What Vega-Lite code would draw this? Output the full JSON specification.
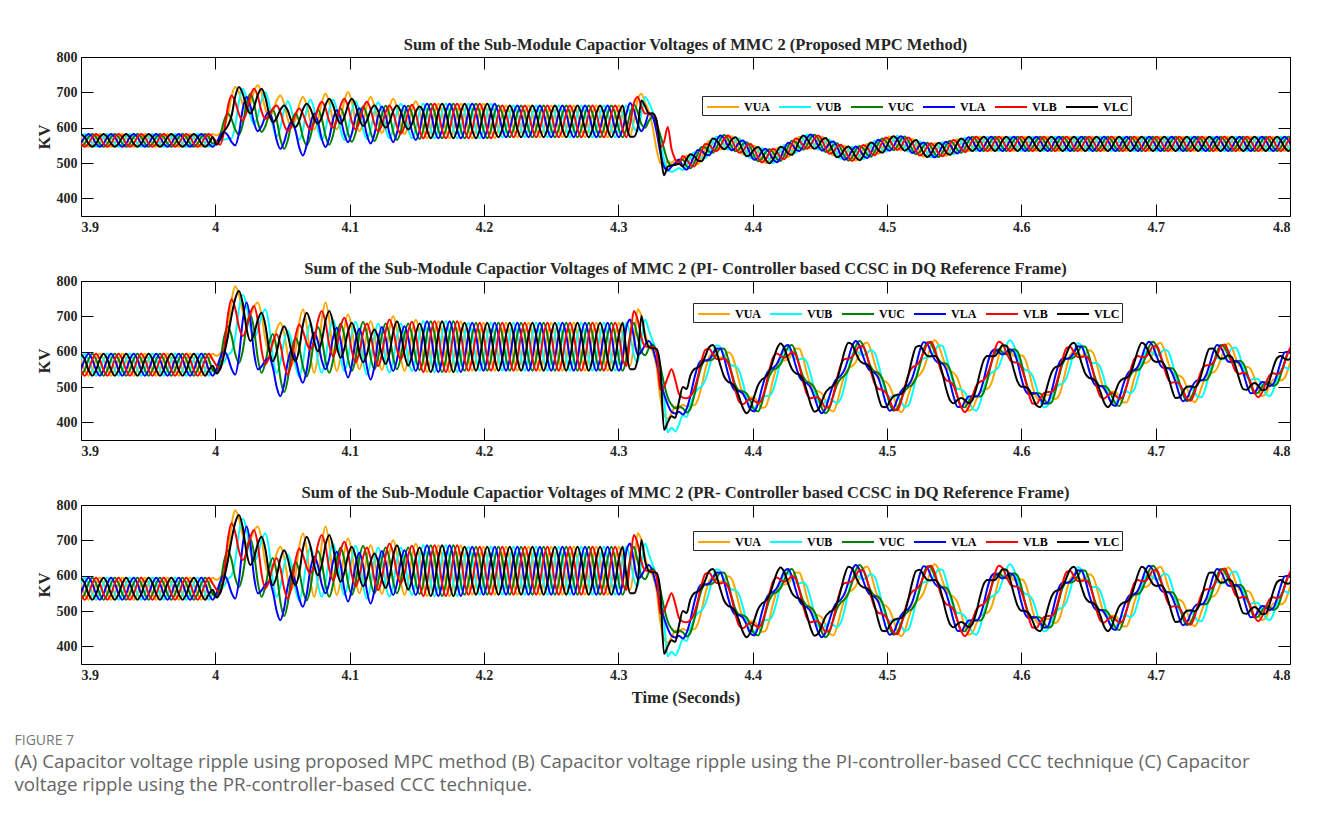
{
"$schema":"https://vega.github.io/schema/vega-lite/v6.json",
"background":"white",
"padding":{"left":14,"top":36,"right":5,"bottom":10},
"spacing":25,
"config":{
"font":"Liberation Serif",
"view":{"stroke":"#000","strokeWidth":1},
"axis":{"grid":false,"domain":false,"labelFont":"Liberation Serif","labelFontWeight":"bold","labelFontSize":14,"labelColor":"#262626","titleFont":"Liberation Serif","titleFontWeight":"bold","titleFontSize":16.5,"titleColor":"#262626","tickColor":"#000","tickSize":-12,"tickWidth":1,"labelPadding":16},
"title":{"font":"Liberation Serif","fontWeight":"bold","fontSize":16.5,"color":"#262626","offset":-3,"anchor":"middle"},
"legend":{"direction":"horizontal","title":null,"symbolType":"M-2,0H2","symbolSize":256,"symbolOffset":10,"symbolStrokeWidth":2,"labelFont":"Liberation Serif","labelFontWeight":"bold","labelFontSize":12,"labelColor":"#000","labelOffset":12,"strokeColor":"#262626","fillColor":"#fff","padding":2,"columnPadding":5}
},
"title":{"text":"FIGURE 7","subtitle":["(A) Capacitor voltage ripple using proposed MPC method (B) Capacitor voltage ripple using the PI-controller-based CCC technique (C) Capacitor","voltage ripple using the PR-controller-based CCC technique."],"orient":"bottom","anchor":"start","font":"Open Sans","fontSize":14,"fontWeight":"normal","color":"#777","subtitleFont":"Open Sans","subtitleFontSize":18.7,"subtitleColor":"#666","subtitleLineHeight":23,"subtitlePadding":5,"offset":27,"dx":-21},
"resolve":{"scale":{"color":"independent"},"legend":{"color":"independent"}},
"datasets":{
"mpc":[
{"t":3.9,"a":573,"b":573,"c":546,"d":555,"e":555,"f":582},
{"t":3.9028,"a":555,"b":582,"c":555,"d":573,"e":546,"f":573},
{"t":3.9056,"a":546,"b":573,"c":573,"d":582,"e":555,"f":555},
{"t":3.9084,"a":555,"b":555,"c":582,"d":573,"e":573,"f":546},
{"t":3.9112,"a":573,"b":546,"c":573,"d":555,"e":582,"f":555},
{"t":3.914,"a":582,"b":555,"c":555,"d":546,"e":573,"f":573},
{"t":3.9168,"a":573,"b":573,"c":546,"d":555,"e":555,"f":582},
{"t":3.9196,"a":555,"b":582,"c":555,"d":573,"e":546,"f":573},
{"t":3.9224,"a":546,"b":573,"c":573,"d":582,"e":555,"f":555},
{"t":3.9252,"a":555,"b":555,"c":582,"d":573,"e":573,"f":546},
{"t":3.928,"a":573,"b":546,"c":573,"d":555,"e":582,"f":555},
{"t":3.9308,"a":582,"b":555,"c":555,"d":546,"e":573,"f":573},
{"t":3.9336,"a":573,"b":573,"c":546,"d":555,"e":555,"f":582},
{"t":3.9364,"a":555,"b":582,"c":555,"d":573,"e":546,"f":573},
{"t":3.9392,"a":546,"b":573,"c":573,"d":582,"e":555,"f":555},
{"t":3.942,"a":555,"b":555,"c":582,"d":573,"e":573,"f":546},
{"t":3.9448,"a":573,"b":546,"c":573,"d":555,"e":582,"f":555},
{"t":3.9476,"a":582,"b":555,"c":555,"d":546,"e":573,"f":573},
{"t":3.9504,"a":573,"b":573,"c":546,"d":555,"e":555,"f":582},
{"t":3.9532,"a":555,"b":582,"c":555,"d":573,"e":546,"f":573},
{"t":3.956,"a":546,"b":573,"c":573,"d":582,"e":555,"f":555},
{"t":3.9588,"a":555,"b":555,"c":582,"d":573,"e":573,"f":546},
{"t":3.9616,"a":573,"b":546,"c":573,"d":555,"e":582,"f":555},
{"t":3.9644,"a":582,"b":555,"c":555,"d":546,"e":573,"f":573},
{"t":3.9672,"a":573,"b":573,"c":546,"d":555,"e":555,"f":582},
{"t":3.97,"a":555,"b":582,"c":555,"d":573,"e":546,"f":573},
{"t":3.9728,"a":546,"b":573,"c":573,"d":582,"e":555,"f":555},
{"t":3.9756,"a":555,"b":555,"c":582,"d":573,"e":573,"f":546},
{"t":3.9784,"a":573,"b":546,"c":573,"d":555,"e":582,"f":555},
{"t":3.9812,"a":582,"b":555,"c":555,"d":546,"e":573,"f":573},
{"t":3.984,"a":573,"b":573,"c":546,"d":555,"e":555,"f":582},
{"t":3.9868,"a":555,"b":582,"c":555,"d":573,"e":546,"f":573},
{"t":3.9896,"a":546,"b":573,"c":573,"d":582,"e":555,"f":555},
{"t":3.9924,"a":555,"b":555,"c":582,"d":573,"e":573,"f":546},
{"t":3.9952,"a":573,"b":546,"c":573,"d":555,"e":582,"f":555},
{"t":3.998,"a":582,"b":555,"c":555,"d":546,"e":573,"f":573},
{"t":4.0008,"a":578,"b":560,"c":556,"d":557,"e":560,"f":552},
{"t":4.0036,"a":585,"b":565,"c":577,"d":578,"e":552,"f":567},
{"t":4.0064,"a":605,"b":566,"c":619,"d":588,"e":587,"f":589},
{"t":4.0092,"a":632,"b":569,"c":640,"d":579,"e":656,"f":605},
{"t":4.012,"a":688,"b":570,"c":625,"d":560,"e":691,"f":632},
{"t":4.0148,"a":715,"b":605,"c":595,"d":550,"e":673,"f":688},
{"t":4.0176,"a":699,"b":675,"c":580,"d":584,"e":638,"f":715},
{"t":4.0204,"a":666,"b":710,"c":609,"d":653,"e":620,"f":696},
{"t":4.0232,"a":650,"b":685,"c":667,"d":687,"e":643,"f":659},
{"t":4.026,"a":668,"b":635,"c":696,"d":663,"e":688,"f":640},
{"t":4.0288,"a":703,"b":610,"c":669,"d":614,"e":710,"f":658},
{"t":4.0316,"a":720,"b":633,"c":615,"d":590,"e":689,"f":693},
{"t":4.0344,"a":698,"b":678,"c":588,"d":604,"e":646,"f":710},
{"t":4.0372,"a":653,"b":700,"c":604,"d":631,"e":625,"f":686},
{"t":4.04,"a":630,"b":669,"c":635,"d":644,"e":635,"f":639},
{"t":4.0428,"a":645,"b":606,"c":650,"d":618,"e":654,"f":615},
{"t":4.0456,"a":676,"b":575,"c":623,"d":566,"e":663,"f":627},
{"t":4.0484,"a":691,"b":600,"c":568,"d":540,"e":645,"f":651},
{"t":4.0512,"a":668,"b":650,"c":540,"d":559,"e":608,"f":663},
{"t":4.054,"a":623,"b":675,"c":565,"d":597,"e":590,"f":648},
{"t":4.0568,"a":600,"b":648,"c":615,"d":616,"e":606,"f":617},
{"t":4.0596,"a":622,"b":593,"c":640,"d":592,"e":638,"f":602},
{"t":4.0624,"a":665,"b":565,"c":618,"d":545,"e":654,"f":619},
{"t":4.0652,"a":687,"b":594,"c":573,"d":521,"e":639,"f":652},
{"t":4.068,"a":664,"b":651,"c":550,"d":551,"e":610,"f":668},
{"t":4.0708,"a":618,"b":680,"c":575,"d":610,"e":595,"f":654},
{"t":4.0736,"a":595,"b":651,"c":625,"d":640,"e":615,"f":625},
{"t":4.0764,"a":620,"b":594,"c":650,"d":616,"e":654,"f":611},
{"t":4.0792,"a":671,"b":565,"c":626,"d":569,"e":673,"f":629},
{"t":4.082,"a":696,"b":594,"c":577,"d":545,"e":655,"f":664},
{"t":4.0848,"a":671,"b":651,"c":552,"d":571,"e":618,"f":682},
{"t":4.0876,"a":620,"b":680,"c":578,"d":623,"e":600,"f":664},
{"t":4.0904,"a":595,"b":651,"c":629,"d":649,"e":621,"f":629},
{"t":4.0932,"a":622,"b":594,"c":655,"d":627,"e":662,"f":611},
{"t":4.096,"a":675,"b":565,"c":631,"d":582,"e":682,"f":629},
{"t":4.0988,"a":701,"b":593,"c":584,"d":559,"e":660,"f":664},
{"t":4.1016,"a":673,"b":648,"c":560,"d":583,"e":617,"f":682},
{"t":4.1044,"a":618,"b":675,"c":585,"d":631,"e":595,"f":663},
{"t":4.1072,"a":590,"b":648,"c":635,"d":655,"e":615,"f":624},
{"t":4.11,"a":614,"b":595,"c":660,"d":630,"e":654,"f":605},
{"t":4.1128,"a":663,"b":568,"c":636,"d":580,"e":673,"f":620},
{"t":4.1156,"a":687,"b":594,"c":587,"d":555,"e":652,"f":649},
{"t":4.1184,"a":662,"b":646,"c":562,"d":581,"e":611,"f":663},
{"t":4.1212,"a":611,"b":672,"c":587,"d":634,"e":590,"f":647},
{"t":4.124,"a":585,"b":647,"c":637,"d":660,"e":608,"f":616},
{"t":4.1268,"a":609,"b":596,"c":662,"d":635,"e":645,"f":600},
{"t":4.1296,"a":658,"b":570,"c":638,"d":584,"e":663,"f":616},
{"t":4.1324,"a":682,"b":595,"c":589,"d":559,"e":643,"f":647},
{"t":4.1352,"a":657,"b":644,"c":565,"d":585,"e":603,"f":663},
{"t":4.138,"a":607,"b":668,"c":589,"d":636,"e":583,"f":646},
{"t":4.1408,"a":582,"b":644,"c":638,"d":662,"e":604,"f":612},
{"t":4.1436,"a":605,"b":595,"c":662,"d":638,"e":645,"f":595},
{"t":4.1464,"a":652,"b":570,"c":639,"d":589,"e":665,"f":611},
{"t":4.1492,"a":675,"b":595,"c":592,"d":565,"e":641,"f":644},
{"t":4.152,"a":649,"b":644,"c":568,"d":591,"e":594,"f":660},
{"t":4.1548,"a":594,"b":668,"c":594,"d":644,"e":570,"f":644},
{"t":4.1576,"a":570,"b":644,"c":644,"d":668,"e":594,"f":594},
{"t":4.1604,"a":594,"b":594,"c":668,"d":644,"e":644,"f":570},
{"t":4.1632,"a":644,"b":570,"c":644,"d":594,"e":668,"f":594},
{"t":4.166,"a":668,"b":594,"c":594,"d":570,"e":644,"f":644},
{"t":4.1688,"a":644,"b":644,"c":570,"d":594,"e":594,"f":668},
{"t":4.1716,"a":594,"b":668,"c":594,"d":644,"e":570,"f":644},
{"t":4.1744,"a":570,"b":644,"c":644,"d":668,"e":594,"f":594},
{"t":4.1772,"a":594,"b":594,"c":668,"d":644,"e":644,"f":570},
{"t":4.18,"a":644,"b":570,"c":644,"d":594,"e":668,"f":594},
{"t":4.1828,"a":668,"b":594,"c":594,"d":570,"e":644,"f":644},
{"t":4.1856,"a":644,"b":644,"c":570,"d":594,"e":594,"f":668},
{"t":4.1884,"a":594,"b":668,"c":594,"d":644,"e":570,"f":644},
{"t":4.1912,"a":570,"b":644,"c":644,"d":668,"e":594,"f":594},
{"t":4.194,"a":594,"b":594,"c":668,"d":644,"e":644,"f":570},
{"t":4.1968,"a":644,"b":570,"c":644,"d":594,"e":668,"f":594},
{"t":4.1996,"a":668,"b":594,"c":594,"d":570,"e":644,"f":644},
{"t":4.2024,"a":644,"b":644,"c":570,"d":594,"e":594,"f":668},
{"t":4.2052,"a":594,"b":668,"c":594,"d":644,"e":570,"f":644},
{"t":4.208,"a":570,"b":644,"c":644,"d":668,"e":594,"f":594},
{"t":4.2108,"a":596,"b":596,"c":663,"d":640,"e":640,"f":573},
{"t":4.2136,"a":640,"b":573,"c":640,"d":596,"e":663,"f":596},
{"t":4.2164,"a":663,"b":596,"c":596,"d":573,"e":640,"f":640},
{"t":4.2192,"a":640,"b":640,"c":573,"d":596,"e":596,"f":663},
{"t":4.222,"a":596,"b":663,"c":596,"d":640,"e":573,"f":640},
{"t":4.2248,"a":573,"b":640,"c":640,"d":663,"e":596,"f":596},
{"t":4.2276,"a":596,"b":596,"c":663,"d":640,"e":640,"f":573},
{"t":4.2304,"a":640,"b":573,"c":640,"d":596,"e":663,"f":596},
{"t":4.2332,"a":663,"b":596,"c":596,"d":573,"e":640,"f":640},
{"t":4.236,"a":640,"b":640,"c":573,"d":596,"e":596,"f":663},
{"t":4.2388,"a":596,"b":663,"c":596,"d":640,"e":573,"f":640},
{"t":4.2416,"a":573,"b":640,"c":640,"d":663,"e":596,"f":596},
{"t":4.2444,"a":596,"b":596,"c":663,"d":640,"e":640,"f":573},
{"t":4.2472,"a":640,"b":573,"c":640,"d":596,"e":663,"f":596},
{"t":4.25,"a":663,"b":596,"c":596,"d":573,"e":640,"f":640},
{"t":4.2528,"a":640,"b":640,"c":573,"d":596,"e":596,"f":663},
{"t":4.2556,"a":596,"b":663,"c":596,"d":640,"e":573,"f":640},
{"t":4.2584,"a":573,"b":640,"c":640,"d":663,"e":596,"f":596},
{"t":4.2612,"a":596,"b":596,"c":663,"d":640,"e":640,"f":573},
{"t":4.264,"a":640,"b":573,"c":640,"d":596,"e":663,"f":596},
{"t":4.2668,"a":663,"b":596,"c":596,"d":573,"e":640,"f":640},
{"t":4.2696,"a":640,"b":640,"c":573,"d":596,"e":596,"f":663},
{"t":4.2724,"a":596,"b":663,"c":596,"d":640,"e":573,"f":640},
{"t":4.2752,"a":573,"b":640,"c":640,"d":663,"e":596,"f":596},
{"t":4.278,"a":596,"b":596,"c":663,"d":640,"e":640,"f":573},
{"t":4.2808,"a":640,"b":573,"c":640,"d":596,"e":663,"f":596},
{"t":4.2836,"a":663,"b":596,"c":596,"d":573,"e":640,"f":640},
{"t":4.2864,"a":640,"b":640,"c":573,"d":596,"e":596,"f":663},
{"t":4.2892,"a":596,"b":663,"c":596,"d":640,"e":573,"f":640},
{"t":4.292,"a":573,"b":640,"c":640,"d":663,"e":596,"f":596},
{"t":4.2948,"a":596,"b":596,"c":663,"d":640,"e":640,"f":573},
{"t":4.2976,"a":640,"b":573,"c":640,"d":596,"e":663,"f":596},
{"t":4.3004,"a":663,"b":596,"c":596,"d":573,"e":640,"f":640},
{"t":4.3032,"a":640,"b":640,"c":573,"d":596,"e":596,"f":663},
{"t":4.306,"a":596,"b":663,"c":596,"d":640,"e":573,"f":610},
{"t":4.3088,"a":578,"b":640,"c":640,"d":670,"e":610,"f":574},
{"t":4.3116,"a":620,"b":600,"c":665,"d":650,"e":670,"f":574},
{"t":4.3144,"a":680,"b":590,"c":645,"d":610,"e":687,"f":600},
{"t":4.3172,"a":696,"b":640,"c":610,"d":590,"e":660,"f":677},
{"t":4.32,"a":670,"b":687,"c":600,"d":610,"e":640,"f":660},
{"t":4.3228,"a":645,"b":670,"c":620,"d":640,"e":640,"f":640},
{"t":4.3256,"a":600,"b":645,"c":630,"d":630,"e":640,"f":640},
{"t":4.3284,"a":540,"b":620,"c":610,"d":590,"e":620,"f":620},
{"t":4.3312,"a":500,"b":560,"c":580,"d":530,"e":545,"f":540},
{"t":4.334,"a":495,"b":510,"c":540,"d":490,"e":560,"f":465},
{"t":4.3368,"a":505,"b":482,"c":505,"d":479,"e":602,"f":490},
{"t":4.3396,"a":500,"b":475,"c":493,"d":490,"e":540,"f":493},
{"t":4.3424,"a":510,"b":480,"c":495,"d":500,"e":510,"f":495},
{"t":4.3452,"a":505,"b":485,"c":505,"d":510,"e":500,"f":498},
{"t":4.348,"a":510,"b":480,"c":510,"d":490,"e":520,"f":490},
{"t":4.3508,"a":521,"b":491,"c":491,"d":481,"e":511,"f":511},
{"t":4.3536,"a":515,"b":515,"c":485,"d":495,"e":495,"f":525},
{"t":4.3564,"a":500,"b":530,"c":500,"d":520,"e":490,"f":520},
{"t":4.3592,"a":497,"b":527,"c":527,"d":537,"e":507,"f":507},
{"t":4.362,"a":515,"b":515,"c":545,"d":535,"e":535,"f":505},
{"t":4.3648,"a":544,"b":514,"c":544,"d":524,"e":554,"f":524},
{"t":4.3676,"a":562,"b":532,"c":532,"d":522,"e":552,"f":552},
{"t":4.3704,"a":559,"b":559,"c":529,"d":539,"e":539,"f":569},
{"t":4.3732,"a":544,"b":574,"c":544,"d":564,"e":534,"f":564},
{"t":4.376,"a":538,"b":568,"c":568,"d":578,"e":548,"f":548},
{"t":4.3788,"a":549,"b":549,"c":579,"d":569,"e":569,"f":539},
{"t":4.3816,"a":568,"b":538,"c":568,"d":548,"e":578,"f":548},
{"t":4.3844,"a":576,"b":546,"c":546,"d":536,"e":566,"f":566},
{"t":4.3872,"a":563,"b":563,"c":533,"d":543,"e":543,"f":573},
{"t":4.39,"a":539,"b":569,"c":539,"d":559,"e":529,"f":559},
{"t":4.3928,"a":524,"b":554,"c":554,"d":564,"e":534,"f":534},
{"t":4.3956,"a":529,"b":529,"c":559,"d":549,"e":549,"f":519},
{"t":4.3984,"a":544,"b":514,"c":544,"d":524,"e":554,"f":524},
{"t":4.4012,"a":549,"b":519,"c":519,"d":509,"e":539,"f":539},
{"t":4.404,"a":535,"b":535,"c":505,"d":515,"e":515,"f":545},
{"t":4.4068,"a":512,"b":542,"c":512,"d":532,"e":502,"f":532},
{"t":4.4096,"a":500,"b":530,"c":530,"d":540,"e":510,"f":510},
{"t":4.4124,"a":509,"b":509,"c":539,"d":529,"e":529,"f":499},
{"t":4.4152,"a":530,"b":500,"c":530,"d":510,"e":540,"f":510},
{"t":4.418,"a":542,"b":512,"c":512,"d":502,"e":532,"f":532},
{"t":4.4208,"a":536,"b":536,"c":506,"d":516,"e":516,"f":546},
{"t":4.4236,"a":521,"b":551,"c":521,"d":541,"e":511,"f":541},
{"t":4.4264,"a":517,"b":547,"c":547,"d":557,"e":527,"f":527},
{"t":4.4292,"a":533,"b":533,"c":563,"d":553,"e":553,"f":523},
{"t":4.432,"a":559,"b":529,"c":559,"d":539,"e":569,"f":539},
{"t":4.4348,"a":574,"b":544,"c":544,"d":534,"e":564,"f":564},
{"t":4.4376,"a":568,"b":568,"c":538,"d":548,"e":548,"f":578},
{"t":4.4404,"a":550,"b":580,"c":550,"d":570,"e":540,"f":570},
{"t":4.4432,"a":541,"b":571,"c":571,"d":581,"e":551,"f":551},
{"t":4.446,"a":550,"b":550,"c":580,"d":570,"e":570,"f":540},
{"t":4.4488,"a":568,"b":538,"c":568,"d":548,"e":578,"f":548},
{"t":4.4516,"a":575,"b":545,"c":545,"d":535,"e":565,"f":565},
{"t":4.4544,"a":561,"b":561,"c":531,"d":541,"e":541,"f":571},
{"t":4.4572,"a":536,"b":566,"c":536,"d":556,"e":526,"f":556},
{"t":4.46,"a":521,"b":551,"c":551,"d":561,"e":531,"f":531},
{"t":4.4628,"a":526,"b":526,"c":556,"d":546,"e":546,"f":516},
{"t":4.4656,"a":542,"b":512,"c":542,"d":522,"e":552,"f":522},
{"t":4.4684,"a":549,"b":519,"c":519,"d":509,"e":539,"f":539},
{"t":4.4712,"a":537,"b":537,"c":507,"d":517,"e":517,"f":547},
{"t":4.474,"a":516,"b":546,"c":516,"d":536,"e":506,"f":536},
{"t":4.4768,"a":507,"b":537,"c":537,"d":547,"e":517,"f":517},
{"t":4.4796,"a":518,"b":518,"c":548,"d":538,"e":538,"f":508},
{"t":4.4824,"a":541,"b":511,"c":541,"d":521,"e":551,"f":521},
{"t":4.4852,"a":554,"b":524,"c":524,"d":514,"e":544,"f":544},
{"t":4.488,"a":548,"b":548,"c":518,"d":528,"e":528,"f":558},
{"t":4.4908,"a":532,"b":562,"c":532,"d":552,"e":522,"f":552},
{"t":4.4936,"a":526,"b":556,"c":556,"d":566,"e":536,"f":536},
{"t":4.4964,"a":539,"b":539,"c":569,"d":559,"e":559,"f":529},
{"t":4.4992,"a":562,"b":532,"c":562,"d":542,"e":572,"f":542},
{"t":4.502,"a":575,"b":545,"c":545,"d":535,"e":565,"f":565},
{"t":4.5048,"a":566,"b":566,"c":536,"d":546,"e":546,"f":576},
{"t":4.5076,"a":547,"b":577,"c":547,"d":567,"e":537,"f":567},
{"t":4.5104,"a":536,"b":566,"c":566,"d":576,"e":546,"f":546},
{"t":4.5132,"a":545,"b":545,"c":575,"d":565,"e":565,"f":535},
{"t":4.516,"a":562,"b":532,"c":562,"d":542,"e":572,"f":542},
{"t":4.5188,"a":568,"b":538,"c":538,"d":528,"e":558,"f":558},
{"t":4.5216,"a":555,"b":555,"c":525,"d":535,"e":535,"f":565},
{"t":4.5244,"a":531,"b":561,"c":531,"d":551,"e":521,"f":551},
{"t":4.5272,"a":518,"b":548,"c":548,"d":558,"e":528,"f":528},
{"t":4.53,"a":527,"b":527,"c":557,"d":547,"e":547,"f":517},
{"t":4.5328,"a":546,"b":516,"c":546,"d":526,"e":556,"f":526},
{"t":4.5356,"a":556,"b":526,"c":526,"d":516,"e":546,"f":546},
{"t":4.5384,"a":547,"b":547,"c":517,"d":527,"e":527,"f":557},
{"t":4.5412,"a":529,"b":559,"c":529,"d":549,"e":519,"f":549},
{"t":4.544,"a":520,"b":550,"c":550,"d":560,"e":530,"f":530},
{"t":4.5468,"a":533,"b":533,"c":563,"d":553,"e":553,"f":523},
{"t":4.5496,"a":555,"b":525,"c":555,"d":535,"e":565,"f":535},
{"t":4.5524,"a":567,"b":537,"c":537,"d":527,"e":557,"f":557},
{"t":4.5552,"a":559,"b":559,"c":529,"d":539,"e":539,"f":569},
{"t":4.558,"a":541,"b":571,"c":541,"d":561,"e":531,"f":561},
{"t":4.5608,"a":533,"b":563,"c":563,"d":573,"e":543,"f":543},
{"t":4.5636,"a":544,"b":544,"c":574,"d":564,"e":564,"f":534},
{"t":4.5664,"a":564,"b":534,"c":564,"d":544,"e":574,"f":544},
{"t":4.5692,"a":574,"b":544,"c":544,"d":534,"e":564,"f":564},
{"t":4.572,"a":564,"b":564,"c":534,"d":544,"e":544,"f":574},
{"t":4.5748,"a":544,"b":574,"c":544,"d":564,"e":534,"f":564},
{"t":4.5776,"a":534,"b":564,"c":564,"d":574,"e":544,"f":544},
{"t":4.5804,"a":544,"b":544,"c":574,"d":564,"e":564,"f":534},
{"t":4.5832,"a":564,"b":534,"c":564,"d":544,"e":574,"f":544},
{"t":4.586,"a":574,"b":544,"c":544,"d":534,"e":564,"f":564},
{"t":4.5888,"a":564,"b":564,"c":534,"d":544,"e":544,"f":574},
{"t":4.5916,"a":544,"b":574,"c":544,"d":564,"e":534,"f":564},
{"t":4.5944,"a":534,"b":564,"c":564,"d":574,"e":544,"f":544},
{"t":4.5972,"a":544,"b":544,"c":574,"d":564,"e":564,"f":534},
{"t":4.6,"a":564,"b":534,"c":564,"d":544,"e":574,"f":544},
{"t":4.6028,"a":574,"b":544,"c":544,"d":534,"e":564,"f":564},
{"t":4.6056,"a":564,"b":564,"c":534,"d":544,"e":544,"f":574},
{"t":4.6084,"a":544,"b":574,"c":544,"d":564,"e":534,"f":564},
{"t":4.6112,"a":534,"b":564,"c":564,"d":574,"e":544,"f":544},
{"t":4.614,"a":544,"b":544,"c":574,"d":564,"e":564,"f":534},
{"t":4.6168,"a":564,"b":534,"c":564,"d":544,"e":574,"f":544},
{"t":4.6196,"a":574,"b":544,"c":544,"d":534,"e":564,"f":564},
{"t":4.6224,"a":564,"b":564,"c":534,"d":544,"e":544,"f":574},
{"t":4.6252,"a":544,"b":574,"c":544,"d":564,"e":534,"f":564},
{"t":4.628,"a":534,"b":564,"c":564,"d":574,"e":544,"f":544},
{"t":4.6308,"a":544,"b":544,"c":574,"d":564,"e":564,"f":534},
{"t":4.6336,"a":564,"b":534,"c":564,"d":544,"e":574,"f":544},
{"t":4.6364,"a":574,"b":544,"c":544,"d":534,"e":564,"f":564},
{"t":4.6392,"a":564,"b":564,"c":534,"d":544,"e":544,"f":574},
{"t":4.642,"a":544,"b":574,"c":544,"d":564,"e":534,"f":564},
{"t":4.6448,"a":534,"b":564,"c":564,"d":574,"e":544,"f":544},
{"t":4.6476,"a":544,"b":544,"c":574,"d":564,"e":564,"f":534},
{"t":4.6504,"a":564,"b":534,"c":564,"d":544,"e":574,"f":544},
{"t":4.6532,"a":574,"b":544,"c":544,"d":534,"e":564,"f":564},
{"t":4.656,"a":564,"b":564,"c":534,"d":544,"e":544,"f":574},
{"t":4.6588,"a":544,"b":574,"c":544,"d":564,"e":534,"f":564},
{"t":4.6616,"a":534,"b":564,"c":564,"d":574,"e":544,"f":544},
{"t":4.6644,"a":544,"b":544,"c":574,"d":564,"e":564,"f":534},
{"t":4.6672,"a":564,"b":534,"c":564,"d":544,"e":574,"f":544},
{"t":4.67,"a":574,"b":544,"c":544,"d":534,"e":564,"f":564},
{"t":4.6728,"a":564,"b":564,"c":534,"d":544,"e":544,"f":574},
{"t":4.6756,"a":544,"b":574,"c":544,"d":564,"e":534,"f":564},
{"t":4.6784,"a":534,"b":564,"c":564,"d":574,"e":544,"f":544},
{"t":4.6812,"a":544,"b":544,"c":574,"d":564,"e":564,"f":534},
{"t":4.684,"a":564,"b":534,"c":564,"d":544,"e":574,"f":544},
{"t":4.6868,"a":574,"b":544,"c":544,"d":534,"e":564,"f":564},
{"t":4.6896,"a":564,"b":564,"c":534,"d":544,"e":544,"f":574},
{"t":4.6924,"a":544,"b":574,"c":544,"d":564,"e":534,"f":564},
{"t":4.6952,"a":534,"b":564,"c":564,"d":574,"e":544,"f":544},
{"t":4.698,"a":544,"b":544,"c":574,"d":564,"e":564,"f":534},
{"t":4.7008,"a":564,"b":534,"c":564,"d":544,"e":574,"f":544},
{"t":4.7036,"a":574,"b":544,"c":544,"d":534,"e":564,"f":564},
{"t":4.7064,"a":564,"b":564,"c":534,"d":544,"e":544,"f":574},
{"t":4.7092,"a":544,"b":574,"c":544,"d":564,"e":534,"f":564},
{"t":4.712,"a":534,"b":564,"c":564,"d":574,"e":544,"f":544},
{"t":4.7148,"a":544,"b":544,"c":574,"d":564,"e":564,"f":534},
{"t":4.7176,"a":564,"b":534,"c":564,"d":544,"e":574,"f":544},
{"t":4.7204,"a":574,"b":544,"c":544,"d":534,"e":564,"f":564},
{"t":4.7232,"a":564,"b":564,"c":534,"d":544,"e":544,"f":574},
{"t":4.726,"a":544,"b":574,"c":544,"d":564,"e":534,"f":564},
{"t":4.7288,"a":534,"b":564,"c":564,"d":574,"e":544,"f":544},
{"t":4.7316,"a":544,"b":544,"c":574,"d":564,"e":564,"f":534},
{"t":4.7344,"a":564,"b":534,"c":564,"d":544,"e":574,"f":544},
{"t":4.7372,"a":574,"b":544,"c":544,"d":534,"e":564,"f":564},
{"t":4.74,"a":564,"b":564,"c":534,"d":544,"e":544,"f":574},
{"t":4.7428,"a":544,"b":574,"c":544,"d":564,"e":534,"f":564},
{"t":4.7456,"a":534,"b":564,"c":564,"d":574,"e":544,"f":544},
{"t":4.7484,"a":544,"b":544,"c":574,"d":564,"e":564,"f":534},
{"t":4.7512,"a":564,"b":534,"c":564,"d":544,"e":574,"f":544},
{"t":4.754,"a":574,"b":544,"c":544,"d":534,"e":564,"f":564},
{"t":4.7568,"a":564,"b":564,"c":534,"d":544,"e":544,"f":574},
{"t":4.7596,"a":544,"b":574,"c":544,"d":564,"e":534,"f":564},
{"t":4.7624,"a":534,"b":564,"c":564,"d":574,"e":544,"f":544},
{"t":4.7652,"a":544,"b":544,"c":574,"d":564,"e":564,"f":534},
{"t":4.768,"a":564,"b":534,"c":564,"d":544,"e":574,"f":544},
{"t":4.7708,"a":574,"b":544,"c":544,"d":534,"e":564,"f":564},
{"t":4.7736,"a":564,"b":564,"c":534,"d":544,"e":544,"f":574},
{"t":4.7764,"a":544,"b":574,"c":544,"d":564,"e":534,"f":564},
{"t":4.7792,"a":534,"b":564,"c":564,"d":574,"e":544,"f":544},
{"t":4.782,"a":544,"b":544,"c":574,"d":564,"e":564,"f":534},
{"t":4.7848,"a":564,"b":534,"c":564,"d":544,"e":574,"f":544},
{"t":4.7876,"a":574,"b":544,"c":544,"d":534,"e":564,"f":564},
{"t":4.7904,"a":564,"b":564,"c":534,"d":544,"e":544,"f":574},
{"t":4.7932,"a":544,"b":574,"c":544,"d":564,"e":534,"f":564},
{"t":4.796,"a":534,"b":564,"c":564,"d":574,"e":544,"f":544},
{"t":4.7988,"a":544,"b":544,"c":574,"d":564,"e":564,"f":534},
{"t":4.8016,"a":564,"b":534,"c":564,"d":544,"e":574,"f":544}
],
"pi":[
{"t":3.9,"a":578,"b":578,"c":532,"d":548,"e":548,"f":594},
{"t":3.9028,"a":548,"b":594,"c":548,"d":578,"e":532,"f":578},
{"t":3.9056,"a":532,"b":578,"c":578,"d":594,"e":548,"f":548},
{"t":3.9084,"a":548,"b":548,"c":594,"d":578,"e":578,"f":532},
{"t":3.9112,"a":578,"b":532,"c":578,"d":548,"e":594,"f":548},
{"t":3.914,"a":594,"b":548,"c":548,"d":532,"e":578,"f":578},
{"t":3.9168,"a":578,"b":578,"c":532,"d":548,"e":548,"f":594},
{"t":3.9196,"a":548,"b":594,"c":548,"d":578,"e":532,"f":578},
{"t":3.9224,"a":532,"b":578,"c":578,"d":594,"e":548,"f":548},
{"t":3.9252,"a":548,"b":548,"c":594,"d":578,"e":578,"f":532},
{"t":3.928,"a":578,"b":532,"c":578,"d":548,"e":594,"f":548},
{"t":3.9308,"a":594,"b":548,"c":548,"d":532,"e":578,"f":578},
{"t":3.9336,"a":578,"b":578,"c":532,"d":548,"e":548,"f":594},
{"t":3.9364,"a":548,"b":594,"c":548,"d":578,"e":532,"f":578},
{"t":3.9392,"a":532,"b":578,"c":578,"d":594,"e":548,"f":548},
{"t":3.942,"a":548,"b":548,"c":594,"d":578,"e":578,"f":532},
{"t":3.9448,"a":578,"b":532,"c":578,"d":548,"e":594,"f":548},
{"t":3.9476,"a":594,"b":548,"c":548,"d":532,"e":578,"f":578},
{"t":3.9504,"a":578,"b":578,"c":532,"d":548,"e":548,"f":594},
{"t":3.9532,"a":548,"b":594,"c":548,"d":578,"e":532,"f":578},
{"t":3.956,"a":532,"b":578,"c":578,"d":594,"e":548,"f":548},
{"t":3.9588,"a":548,"b":548,"c":594,"d":578,"e":578,"f":532},
{"t":3.9616,"a":578,"b":532,"c":578,"d":548,"e":594,"f":548},
{"t":3.9644,"a":594,"b":548,"c":548,"d":532,"e":578,"f":578},
{"t":3.9672,"a":578,"b":578,"c":532,"d":548,"e":548,"f":594},
{"t":3.97,"a":548,"b":594,"c":548,"d":578,"e":532,"f":578},
{"t":3.9728,"a":532,"b":578,"c":578,"d":594,"e":548,"f":548},
{"t":3.9756,"a":548,"b":548,"c":594,"d":578,"e":578,"f":532},
{"t":3.9784,"a":578,"b":532,"c":578,"d":548,"e":594,"f":548},
{"t":3.9812,"a":594,"b":548,"c":548,"d":532,"e":578,"f":578},
{"t":3.984,"a":578,"b":578,"c":532,"d":548,"e":548,"f":594},
{"t":3.9868,"a":548,"b":594,"c":548,"d":578,"e":532,"f":578},
{"t":3.9896,"a":532,"b":578,"c":578,"d":594,"e":548,"f":548},
{"t":3.9924,"a":548,"b":548,"c":594,"d":578,"e":578,"f":532},
{"t":3.9952,"a":578,"b":532,"c":578,"d":548,"e":594,"f":548},
{"t":3.998,"a":594,"b":548,"c":548,"d":532,"e":578,"f":560},
{"t":4.0008,"a":588,"b":553,"c":540,"d":549,"e":561,"f":538},
{"t":4.0036,"a":594,"b":560,"c":573,"d":583,"e":550,"f":552},
{"t":4.0064,"a":615,"b":570,"c":639,"d":601,"e":600,"f":590},
{"t":4.0092,"a":658,"b":590,"c":672,"d":585,"e":699,"f":640},
{"t":4.012,"a":743,"b":600,"c":646,"d":552,"e":748,"f":700},
{"t":4.0148,"a":785,"b":641,"c":594,"d":535,"e":722,"f":750},
{"t":4.0176,"a":761,"b":722,"c":568,"d":586,"e":670,"f":772},
{"t":4.0204,"a":714,"b":762,"c":602,"d":688,"e":644,"f":737},
{"t":4.0232,"a":690,"b":732,"c":671,"d":739,"e":665,"f":666},
{"t":4.026,"a":702,"b":671,"c":705,"d":692,"e":708,"f":630},
{"t":4.0288,"a":727,"b":640,"c":664,"d":597,"e":729,"f":650},
{"t":4.0316,"a":739,"b":660,"c":581,"d":550,"e":688,"f":690},
{"t":4.0344,"a":704,"b":700,"c":540,"d":558,"e":605,"f":710},
{"t":4.0372,"a":635,"b":720,"c":568,"d":575,"e":564,"f":676},
{"t":4.04,"a":600,"b":675,"c":623,"d":583,"e":585,"f":607},
{"t":4.0428,"a":621,"b":585,"c":650,"d":556,"e":628,"f":573},
{"t":4.0456,"a":662,"b":540,"c":609,"d":501,"e":649,"f":598},
{"t":4.0484,"a":682,"b":570,"c":526,"d":474,"e":621,"f":647},
{"t":4.0512,"a":652,"b":630,"c":485,"d":507,"e":564,"f":672},
{"t":4.054,"a":591,"b":660,"c":524,"d":573,"e":535,"f":647},
{"t":4.0568,"a":560,"b":628,"c":601,"d":606,"e":571,"f":598},
{"t":4.0596,"a":600,"b":563,"c":640,"d":583,"e":642,"f":573},
{"t":4.0624,"a":680,"b":530,"c":613,"d":536,"e":677,"f":607},
{"t":4.0652,"a":720,"b":568,"c":558,"d":512,"e":659,"f":676},
{"t":4.068,"a":675,"b":643,"c":530,"d":548,"e":624,"f":710},
{"t":4.0708,"a":585,"b":680,"c":565,"d":619,"e":606,"f":683},
{"t":4.0736,"a":540,"b":645,"c":635,"d":654,"e":633,"f":628},
{"t":4.0764,"a":590,"b":575,"c":670,"d":628,"e":688,"f":601},
{"t":4.0792,"a":689,"b":540,"c":638,"d":576,"e":715,"f":630},
{"t":4.082,"a":739,"b":578,"c":573,"d":550,"e":683,"f":687},
{"t":4.0848,"a":691,"b":653,"c":540,"d":580,"e":619,"f":715},
{"t":4.0876,"a":594,"b":690,"c":575,"d":639,"e":587,"f":682},
{"t":4.0904,"a":545,"b":654,"c":645,"d":668,"e":614,"f":616},
{"t":4.0932,"a":585,"b":581,"c":680,"d":633,"e":669,"f":583},
{"t":4.096,"a":666,"b":545,"c":646,"d":562,"e":696,"f":608},
{"t":4.0988,"a":706,"b":580,"c":579,"d":527,"e":665,"f":657},
{"t":4.1016,"a":667,"b":650,"c":545,"d":562,"e":602,"f":682},
{"t":4.1044,"a":589,"b":685,"c":580,"d":631,"e":570,"f":654},
{"t":4.1072,"a":550,"b":648,"c":650,"d":665,"e":598,"f":598},
{"t":4.11,"a":584,"b":573,"c":685,"d":629,"e":653,"f":570},
{"t":4.1128,"a":652,"b":535,"c":651,"d":557,"e":680,"f":593},
{"t":4.1156,"a":686,"b":571,"c":584,"d":521,"e":650,"f":640},
{"t":4.1184,"a":652,"b":644,"c":550,"d":558,"e":589,"f":663},
{"t":4.1212,"a":583,"b":680,"c":583,"d":633,"e":559,"f":639},
{"t":4.124,"a":548,"b":645,"c":648,"d":670,"e":592,"f":590},
{"t":4.1268,"a":586,"b":575,"c":680,"d":639,"e":658,"f":565},
{"t":4.1296,"a":663,"b":540,"c":648,"d":576,"e":691,"f":595},
{"t":4.1324,"a":701,"b":575,"c":583,"d":545,"e":663,"f":656},
{"t":4.1352,"a":662,"b":645,"c":550,"d":577,"e":606,"f":686},
{"t":4.138,"a":584,"b":680,"c":583,"d":640,"e":578,"f":655},
{"t":4.1408,"a":545,"b":646,"c":648,"d":672,"e":605,"f":592},
{"t":4.1436,"a":581,"b":579,"c":680,"d":640,"e":658,"f":560},
{"t":4.1464,"a":654,"b":545,"c":647,"d":577,"e":685,"f":590},
{"t":4.1492,"a":690,"b":580,"c":581,"d":545,"e":649,"f":650},
{"t":4.152,"a":653,"b":651,"c":548,"d":580,"e":578,"f":680},
{"t":4.1548,"a":578,"b":686,"c":578,"d":650,"e":542,"f":650},
{"t":4.1576,"a":542,"b":650,"c":650,"d":686,"e":578,"f":578},
{"t":4.1604,"a":578,"b":578,"c":686,"d":650,"e":650,"f":542},
{"t":4.1632,"a":650,"b":542,"c":650,"d":578,"e":686,"f":578},
{"t":4.166,"a":686,"b":578,"c":578,"d":542,"e":650,"f":650},
{"t":4.1688,"a":650,"b":650,"c":542,"d":578,"e":578,"f":686},
{"t":4.1716,"a":578,"b":686,"c":578,"d":650,"e":542,"f":650},
{"t":4.1744,"a":542,"b":650,"c":650,"d":686,"e":578,"f":578},
{"t":4.1772,"a":578,"b":578,"c":686,"d":650,"e":650,"f":542},
{"t":4.18,"a":650,"b":542,"c":650,"d":578,"e":686,"f":578},
{"t":4.1828,"a":686,"b":578,"c":578,"d":542,"e":650,"f":650},
{"t":4.1856,"a":648,"b":648,"c":546,"d":580,"e":580,"f":682},
{"t":4.1884,"a":580,"b":682,"c":580,"d":648,"e":546,"f":648},
{"t":4.1912,"a":546,"b":648,"c":648,"d":682,"e":580,"f":580},
{"t":4.194,"a":580,"b":580,"c":682,"d":648,"e":648,"f":546},
{"t":4.1968,"a":648,"b":546,"c":648,"d":580,"e":682,"f":580},
{"t":4.1996,"a":682,"b":580,"c":580,"d":546,"e":648,"f":648},
{"t":4.2024,"a":648,"b":648,"c":546,"d":580,"e":580,"f":682},
{"t":4.2052,"a":580,"b":682,"c":580,"d":648,"e":546,"f":648},
{"t":4.208,"a":546,"b":648,"c":648,"d":682,"e":580,"f":580},
{"t":4.2108,"a":580,"b":580,"c":682,"d":648,"e":648,"f":546},
{"t":4.2136,"a":648,"b":546,"c":648,"d":580,"e":682,"f":580},
{"t":4.2164,"a":682,"b":580,"c":580,"d":546,"e":648,"f":648},
{"t":4.2192,"a":648,"b":648,"c":546,"d":580,"e":580,"f":682},
{"t":4.222,"a":580,"b":682,"c":580,"d":648,"e":546,"f":648},
{"t":4.2248,"a":546,"b":648,"c":648,"d":682,"e":580,"f":580},
{"t":4.2276,"a":580,"b":580,"c":682,"d":648,"e":648,"f":546},
{"t":4.2304,"a":648,"b":546,"c":648,"d":580,"e":682,"f":580},
{"t":4.2332,"a":682,"b":580,"c":580,"d":546,"e":648,"f":648},
{"t":4.236,"a":648,"b":648,"c":546,"d":580,"e":580,"f":682},
{"t":4.2388,"a":580,"b":682,"c":580,"d":648,"e":546,"f":648},
{"t":4.2416,"a":546,"b":648,"c":648,"d":682,"e":580,"f":580},
{"t":4.2444,"a":580,"b":580,"c":682,"d":648,"e":648,"f":546},
{"t":4.2472,"a":648,"b":546,"c":648,"d":580,"e":682,"f":580},
{"t":4.25,"a":682,"b":580,"c":580,"d":546,"e":648,"f":648},
{"t":4.2528,"a":648,"b":648,"c":546,"d":580,"e":580,"f":682},
{"t":4.2556,"a":580,"b":682,"c":580,"d":648,"e":546,"f":648},
{"t":4.2584,"a":546,"b":648,"c":648,"d":682,"e":580,"f":580},
{"t":4.2612,"a":580,"b":580,"c":682,"d":648,"e":648,"f":546},
{"t":4.264,"a":648,"b":546,"c":648,"d":580,"e":682,"f":580},
{"t":4.2668,"a":682,"b":580,"c":580,"d":546,"e":648,"f":648},
{"t":4.2696,"a":648,"b":648,"c":546,"d":580,"e":580,"f":682},
{"t":4.2724,"a":580,"b":682,"c":580,"d":648,"e":546,"f":648},
{"t":4.2752,"a":546,"b":648,"c":648,"d":682,"e":580,"f":580},
{"t":4.278,"a":580,"b":580,"c":682,"d":648,"e":648,"f":546},
{"t":4.2808,"a":648,"b":546,"c":648,"d":580,"e":682,"f":580},
{"t":4.2836,"a":682,"b":580,"c":580,"d":546,"e":648,"f":648},
{"t":4.2864,"a":648,"b":648,"c":546,"d":580,"e":580,"f":682},
{"t":4.2892,"a":580,"b":682,"c":580,"d":648,"e":546,"f":648},
{"t":4.292,"a":546,"b":648,"c":648,"d":682,"e":580,"f":580},
{"t":4.2948,"a":580,"b":580,"c":682,"d":648,"e":648,"f":546},
{"t":4.2976,"a":648,"b":546,"c":648,"d":580,"e":682,"f":580},
{"t":4.3004,"a":682,"b":580,"c":580,"d":546,"e":648,"f":648},
{"t":4.3032,"a":648,"b":648,"c":546,"d":580,"e":580,"f":682},
{"t":4.306,"a":580,"b":682,"c":580,"d":670,"e":560,"f":600},
{"t":4.3088,"a":560,"b":648,"c":648,"d":691,"e":640,"f":550},
{"t":4.3116,"a":620,"b":590,"c":682,"d":640,"e":715,"f":550},
{"t":4.3144,"a":720,"b":570,"c":640,"d":590,"e":690,"f":580},
{"t":4.3172,"a":700,"b":640,"c":600,"d":600,"e":640,"f":701},
{"t":4.32,"a":650,"b":691,"c":590,"d":620,"e":615,"f":640},
{"t":4.3228,"a":615,"b":660,"c":610,"d":630,"e":613,"f":613},
{"t":4.3256,"a":600,"b":630,"c":620,"d":610,"e":613,"f":610},
{"t":4.3284,"a":560,"b":600,"c":600,"d":570,"e":600,"f":608},
{"t":4.3312,"a":470,"b":540,"c":560,"d":520,"e":493,"f":560},
{"t":4.334,"a":420,"b":470,"c":510,"d":480,"e":500,"f":379},
{"t":4.3368,"a":410,"b":372,"c":470,"d":450,"e":527,"f":400},
{"t":4.3396,"a":425,"b":385,"c":450,"d":430,"e":550,"f":417},
{"t":4.3424,"a":445,"b":374,"c":440,"d":425,"e":520,"f":413},
{"t":4.3452,"a":440,"b":395,"c":445,"d":430,"e":480,"f":460},
{"t":4.348,"a":450,"b":420,"c":440,"d":422,"e":470,"f":500},
{"t":4.3508,"a":445,"b":415,"c":428,"d":438,"e":468,"f":494},
{"t":4.3536,"a":448,"b":448,"c":438,"d":474,"e":474,"f":532},
{"t":4.3564,"a":448,"b":478,"c":474,"d":522,"e":492,"f":550},
{"t":4.3592,"a":464,"b":494,"c":522,"d":560,"e":530,"f":555},
{"t":4.362,"a":502,"b":502,"c":560,"d":575,"e":575,"f":565},
{"t":4.3648,"a":550,"b":520,"c":575,"d":575,"e":605,"f":588},
{"t":4.3676,"a":585,"b":555,"c":575,"d":578,"e":608,"f":613},
{"t":4.3704,"a":595,"b":595,"c":578,"d":593,"e":593,"f":619},
{"t":4.3732,"a":588,"b":618,"c":593,"d":609,"e":579,"f":598},
{"t":4.376,"a":583,"b":613,"c":609,"d":608,"e":578,"f":561},
{"t":4.3788,"a":589,"b":589,"c":608,"d":581,"e":581,"f":529},
{"t":4.3816,"a":598,"b":568,"c":581,"d":539,"e":569,"f":515},
{"t":4.3844,"a":591,"b":561,"c":539,"d":505,"e":535,"f":510},
{"t":4.3872,"a":559,"b":559,"c":505,"d":490,"e":490,"f":498},
{"t":4.39,"a":515,"b":545,"c":490,"d":488,"e":458,"f":471},
{"t":4.3928,"a":480,"b":510,"c":488,"d":481,"e":451,"f":440},
{"t":4.3956,"a":468,"b":468,"c":481,"d":460,"e":460,"f":426},
{"t":4.3984,"a":471,"b":441,"c":460,"d":436,"e":466,"f":441},
{"t":4.4012,"a":470,"b":440,"c":436,"d":431,"e":461,"f":474},
{"t":4.404,"a":456,"b":456,"c":431,"d":454,"e":454,"f":505},
{"t":4.4068,"a":441,"b":471,"c":454,"d":495,"e":465,"f":521},
{"t":4.4096,"a":444,"b":474,"c":495,"d":531,"e":501,"f":528},
{"t":4.4124,"a":475,"b":475,"c":531,"d":548,"e":548,"f":544},
{"t":4.4152,"a":521,"b":491,"c":548,"d":554,"e":584,"f":575},
{"t":4.418,"a":558,"b":528,"c":554,"d":565,"e":595,"f":608},
{"t":4.4208,"a":574,"b":574,"c":565,"d":588,"e":588,"f":623},
{"t":4.4236,"a":575,"b":605,"c":588,"d":613,"e":583,"f":609},
{"t":4.4264,"a":578,"b":608,"c":613,"d":619,"e":589,"f":578},
{"t":4.4292,"a":593,"b":593,"c":619,"d":598,"e":598,"f":551},
{"t":4.432,"a":609,"b":579,"c":598,"d":561,"e":591,"f":539},
{"t":4.4348,"a":608,"b":578,"c":561,"d":529,"e":559,"f":535},
{"t":4.4376,"a":581,"b":581,"c":529,"d":515,"e":515,"f":520},
{"t":4.4404,"a":539,"b":569,"c":515,"d":510,"e":480,"f":488},
{"t":4.4432,"a":505,"b":535,"c":510,"d":498,"e":468,"f":451},
{"t":4.446,"a":490,"b":490,"c":498,"d":471,"e":471,"f":430},
{"t":4.4488,"a":488,"b":458,"c":471,"d":440,"e":470,"f":436},
{"t":4.4516,"a":481,"b":451,"c":440,"d":426,"e":456,"f":461},
{"t":4.4544,"a":460,"b":460,"c":426,"d":441,"e":441,"f":485},
{"t":4.4572,"a":436,"b":466,"c":441,"d":475,"e":445,"f":497},
{"t":4.46,"a":431,"b":461,"c":475,"d":507,"e":477,"f":504},
{"t":4.4628,"a":455,"b":455,"c":507,"d":524,"e":524,"f":522},
{"t":4.4656,"a":497,"b":467,"c":524,"d":532,"e":562,"f":559},
{"t":4.4684,"a":534,"b":504,"c":532,"d":549,"e":579,"f":601},
{"t":4.4712,"a":552,"b":552,"c":549,"d":581,"e":581,"f":625},
{"t":4.474,"a":559,"b":589,"c":581,"d":615,"e":585,"f":620},
{"t":4.4768,"a":571,"b":601,"c":615,"d":630,"e":600,"f":596},
{"t":4.4796,"a":595,"b":595,"c":630,"d":616,"e":616,"f":575},
{"t":4.4824,"a":620,"b":590,"c":616,"d":585,"e":615,"f":567},
{"t":4.4852,"a":626,"b":596,"c":585,"d":557,"e":587,"f":564},
{"t":4.488,"a":605,"b":605,"c":557,"d":544,"e":544,"f":550},
{"t":4.4908,"a":567,"b":597,"c":544,"d":540,"e":510,"f":515},
{"t":4.4936,"a":534,"b":564,"c":540,"d":525,"e":495,"f":472},
{"t":4.4964,"a":520,"b":520,"c":525,"d":492,"e":492,"f":444},
{"t":4.4992,"a":515,"b":485,"c":492,"d":454,"e":484,"f":443},
{"t":4.502,"a":502,"b":472,"c":454,"d":433,"e":463,"f":459},
{"t":4.5048,"a":474,"b":474,"c":433,"d":439,"e":439,"f":474},
{"t":4.5076,"a":443,"b":473,"c":439,"d":464,"e":434,"f":478},
{"t":4.5104,"a":429,"b":459,"c":464,"d":488,"e":458,"f":480},
{"t":4.5132,"a":444,"b":444,"c":488,"d":500,"e":500,"f":496},
{"t":4.516,"a":478,"b":448,"c":500,"d":506,"e":536,"f":535},
{"t":4.5188,"a":510,"b":480,"c":506,"d":525,"e":555,"f":581},
{"t":4.5216,"a":526,"b":526,"c":525,"d":561,"e":561,"f":613},
{"t":4.5244,"a":535,"b":565,"c":561,"d":603,"e":573,"f":617},
{"t":4.5272,"a":551,"b":581,"c":603,"d":627,"e":597,"f":602},
{"t":4.53,"a":583,"b":583,"c":627,"d":622,"e":622,"f":588},
{"t":4.5328,"a":617,"b":587,"c":622,"d":598,"e":628,"f":587},
{"t":4.5356,"a":632,"b":602,"c":598,"d":577,"e":607,"f":588},
{"t":4.5384,"a":618,"b":618,"c":577,"d":568,"e":568,"f":576},
{"t":4.5412,"a":587,"b":617,"c":568,"d":566,"e":536,"f":540},
{"t":4.544,"a":558,"b":588,"c":566,"d":550,"e":520,"f":495},
{"t":4.5468,"a":546,"b":546,"c":550,"d":515,"e":515,"f":463},
{"t":4.5496,"a":540,"b":510,"c":515,"d":473,"e":503,"f":454},
{"t":4.5524,"a":525,"b":495,"c":473,"d":444,"e":474,"f":463},
{"t":4.5552,"a":493,"b":493,"c":444,"d":443,"e":443,"f":469},
{"t":4.558,"a":454,"b":484,"c":443,"d":459,"e":429,"f":463},
{"t":4.5608,"a":433,"b":463,"c":459,"d":473,"e":443,"f":454},
{"t":4.5636,"a":439,"b":439,"c":473,"d":474,"e":474,"f":463},
{"t":4.5664,"a":463,"b":433,"c":474,"d":473,"e":503,"f":495},
{"t":4.5692,"a":484,"b":454,"c":473,"d":485,"e":515,"f":540},
{"t":4.572,"a":493,"b":493,"c":485,"d":520,"e":520,"f":576},
{"t":4.5748,"a":495,"b":525,"c":520,"d":566,"e":536,"f":588},
{"t":4.5776,"a":510,"b":540,"c":566,"d":598,"e":568,"f":587},
{"t":4.5804,"a":546,"b":546,"c":598,"d":607,"e":607,"f":588},
{"t":4.5832,"a":588,"b":558,"c":607,"d":598,"e":628,"f":602},
{"t":4.586,"a":617,"b":587,"c":598,"d":592,"e":622,"f":618},
{"t":4.5888,"a":618,"b":618,"c":592,"d":598,"e":598,"f":617},
{"t":4.5916,"a":602,"b":632,"c":598,"d":607,"e":577,"f":590},
{"t":4.5944,"a":588,"b":618,"c":607,"d":600,"e":570,"f":549},
{"t":4.5972,"a":587,"b":587,"c":600,"d":569,"e":569,"f":515},
{"t":4.6,"a":590,"b":560,"c":569,"d":525,"e":555,"f":501},
{"t":4.6028,"a":579,"b":549,"c":525,"d":491,"e":521,"f":500},
{"t":4.6056,"a":545,"b":545,"c":491,"d":480,"e":480,"f":493},
{"t":4.6084,"a":501,"b":531,"c":480,"d":483,"e":453,"f":472},
{"t":4.6112,"a":470,"b":500,"c":483,"d":482,"e":452,"f":448},
{"t":4.614,"a":463,"b":463,"c":482,"d":468,"e":468,"f":443},
{"t":4.6168,"a":472,"b":442,"c":468,"d":453,"e":483,"f":466},
{"t":4.6196,"a":478,"b":448,"c":453,"d":456,"e":486,"f":506},
{"t":4.6224,"a":473,"b":473,"c":456,"d":486,"e":486,"f":540},
{"t":4.6252,"a":466,"b":496,"c":486,"d":530,"e":500,"f":556},
{"t":4.628,"a":476,"b":506,"c":530,"d":566,"e":536,"f":560},
{"t":4.6308,"a":510,"b":510,"c":566,"d":580,"e":580,"f":570},
{"t":4.6336,"a":556,"b":526,"c":580,"d":580,"e":610,"f":594},
{"t":4.6364,"a":590,"b":560,"c":580,"d":584,"e":614,"f":618},
{"t":4.6392,"a":600,"b":600,"c":584,"d":598,"e":598,"f":625},
{"t":4.642,"a":594,"b":624,"c":598,"d":615,"e":585,"f":604},
{"t":4.6448,"a":588,"b":618,"c":615,"d":614,"e":584,"f":568},
{"t":4.6476,"a":595,"b":595,"c":614,"d":588,"e":588,"f":538},
{"t":4.6504,"a":604,"b":574,"c":588,"d":548,"e":578,"f":526},
{"t":4.6532,"a":598,"b":568,"c":548,"d":516,"e":546,"f":523},
{"t":4.656,"a":568,"b":568,"c":516,"d":503,"e":503,"f":513},
{"t":4.6588,"a":526,"b":556,"c":503,"d":503,"e":473,"f":487},
{"t":4.6616,"a":493,"b":523,"c":503,"d":497,"e":467,"f":456},
{"t":4.6644,"a":483,"b":483,"c":497,"d":476,"e":476,"f":443},
{"t":4.6672,"a":487,"b":457,"c":476,"d":453,"e":483,"f":456},
{"t":4.67,"a":486,"b":456,"c":453,"d":446,"e":476,"f":487},
{"t":4.6728,"a":473,"b":473,"c":446,"d":467,"e":467,"f":513},
{"t":4.6756,"a":456,"b":486,"c":467,"d":503,"e":473,"f":523},
{"t":4.6784,"a":457,"b":487,"c":503,"d":533,"e":503,"f":526},
{"t":4.6812,"a":483,"b":483,"c":533,"d":546,"e":546,"f":538},
{"t":4.684,"a":523,"b":493,"c":546,"d":548,"e":578,"f":568},
{"t":4.6868,"a":556,"b":526,"c":548,"d":558,"e":588,"f":604},
{"t":4.6896,"a":568,"b":568,"c":558,"d":584,"e":584,"f":625},
{"t":4.6924,"a":568,"b":598,"c":584,"d":615,"e":585,"f":618},
{"t":4.6952,"a":574,"b":604,"c":615,"d":628,"e":598,"f":595},
{"t":4.698,"a":595,"b":595,"c":628,"d":615,"e":615,"f":576},
{"t":4.7008,"a":618,"b":588,"c":615,"d":586,"e":616,"f":571},
{"t":4.7036,"a":625,"b":595,"c":586,"d":561,"e":591,"f":573},
{"t":4.7064,"a":606,"b":606,"c":561,"d":553,"e":553,"f":563},
{"t":4.7092,"a":571,"b":601,"c":553,"d":553,"e":523,"f":532},
{"t":4.712,"a":543,"b":573,"c":553,"d":542,"e":512,"f":494},
{"t":4.7148,"a":533,"b":533,"c":542,"d":514,"e":514,"f":469},
{"t":4.7176,"a":532,"b":502,"c":514,"d":479,"e":509,"f":470},
{"t":4.7204,"a":524,"b":494,"c":479,"d":460,"e":490,"f":487},
{"t":4.7232,"a":499,"b":499,"c":460,"d":467,"e":467,"f":501},
{"t":4.726,"a":470,"b":500,"c":467,"d":491,"e":461,"f":502},
{"t":4.7288,"a":457,"b":487,"c":491,"d":512,"e":482,"f":499},
{"t":4.7316,"a":471,"b":471,"c":512,"d":519,"e":519,"f":509},
{"t":4.7344,"a":502,"b":472,"c":519,"d":519,"e":549,"f":541},
{"t":4.7372,"a":529,"b":499,"c":519,"d":531,"e":561,"f":582},
{"t":4.74,"a":539,"b":539,"c":531,"d":562,"e":562,"f":608},
{"t":4.7428,"a":541,"b":571,"c":562,"d":598,"e":568,"f":609},
{"t":4.7456,"a":552,"b":582,"c":598,"d":619,"e":589,"f":593},
{"t":4.7484,"a":578,"b":578,"c":619,"d":613,"e":613,"f":580},
{"t":4.7512,"a":609,"b":579,"c":613,"d":590,"e":620,"f":582},
{"t":4.754,"a":623,"b":593,"c":590,"d":572,"e":602,"f":590},
{"t":4.7568,"a":610,"b":610,"c":572,"d":570,"e":570,"f":584},
{"t":4.7596,"a":582,"b":612,"c":570,"d":574,"e":544,"f":557},
{"t":4.7624,"a":560,"b":590,"c":574,"d":567,"e":537,"f":520},
{"t":4.7652,"a":554,"b":554,"c":567,"d":540,"e":540,"f":494},
{"t":4.768,"a":557,"b":527,"c":540,"d":504,"e":534,"f":492},
{"t":4.7708,"a":550,"b":520,"c":504,"d":482,"e":512,"f":504},
{"t":4.7736,"a":524,"b":524,"c":482,"d":484,"e":484,"f":511},
{"t":4.7764,"a":492,"b":522,"c":484,"d":501,"e":471,"f":504},
{"t":4.7792,"a":474,"b":504,"c":501,"d":514,"e":484,"f":491},
{"t":4.782,"a":481,"b":481,"c":514,"d":511,"e":511,"f":493},
{"t":4.7848,"a":504,"b":474,"c":511,"d":503,"e":533,"f":519},
{"t":4.7876,"a":521,"b":491,"c":503,"d":509,"e":539,"f":556},
{"t":4.7904,"a":523,"b":523,"c":509,"d":536,"e":536,"f":582},
{"t":4.7932,"a":519,"b":549,"c":536,"d":572,"e":542,"f":588},
{"t":4.796,"a":526,"b":556,"c":572,"d":598,"e":568,"f":580},
{"t":4.7988,"a":552,"b":552,"c":598,"d":600,"e":600,"f":577},
{"t":4.8016,"a":588,"b":558,"c":600,"d":587,"e":617,"f":590}
]
},
"vconcat":[
{"width":1209,"height":159,
"title":{"text":"Sum of the Sub-Module Capactior Voltages of MMC 2 (Proposed MPC Method)"},
"data":{"name":"mpc"},
"transform":[{"fold":["a","b","c","d","e","f"],"as":["s","v"]}],
"resolve":{"axis":{"x":"independent","y":"independent"}},
"layer":[
{"mark":{"type":"line","strokeWidth":2,"interpolate":"monotone","clip":true},
"encoding":{
"x":{"field":"t","type":"quantitative","scale":{"domain":[3.9,4.8],"nice":false,"zero":false},"axis":{"values":[3.9,4,4.1,4.2,4.3,4.4,4.5,4.6,4.7,4.8],"format":"~g","title":null}},
"y":{"field":"v","type":"quantitative","scale":{"domain":[350,800],"nice":false,"zero":false},"axis":{"values":[400,500,600,700,800],"format":"d","title":"KV","titlePadding":4}},
"color":{"field":"s","type":"nominal","scale":{"domain":["a","b","c","d","e","f"],"range":["#FFA500","#00FFFF","#008000","#0000FF","#FF0000","#000000"]},
"legend":{"orient":"none","legendX":621,"legendY":39,"labelExpr":"datum.label=='a'?'VUA':datum.label=='b'?'VUB':datum.label=='c'?'VUC':datum.label=='d'?'VLA':datum.label=='e'?'VLB':'VLC'"}}}},
{"mark":{"type":"point","opacity":0},
"encoding":{
"x":{"field":"t","type":"quantitative","scale":{"domain":[3.9,4.8],"nice":false,"zero":false},"axis":{"orient":"top","values":[3.9,4,4.1,4.2,4.3,4.4,4.5,4.6,4.7,4.8],"labels":false,"title":null}},
"y":{"field":"v","type":"quantitative","scale":{"domain":[350,800],"nice":false,"zero":false},"axis":{"orient":"right","values":[400,500,600,700,800],"labels":false,"title":null}}}}
]},
{"width":1209,"height":159,
"title":{"text":"Sum of the Sub-Module Capactior Voltages of MMC 2 (PI- Controller based CCSC in DQ Reference Frame)"},
"data":{"name":"pi"},
"transform":[{"fold":["a","b","c","d","e","f"],"as":["s","v"]}],
"resolve":{"axis":{"x":"independent","y":"independent"}},
"layer":[
{"mark":{"type":"line","strokeWidth":2,"interpolate":"monotone","clip":true},
"encoding":{
"x":{"field":"t","type":"quantitative","scale":{"domain":[3.9,4.8],"nice":false,"zero":false},"axis":{"values":[3.9,4,4.1,4.2,4.3,4.4,4.5,4.6,4.7,4.8],"format":"~g","title":null}},
"y":{"field":"v","type":"quantitative","scale":{"domain":[350,800],"nice":false,"zero":false},"axis":{"values":[400,500,600,700,800],"format":"d","title":"KV","titlePadding":4}},
"color":{"field":"s","type":"nominal","scale":{"domain":["a","b","c","d","e","f"],"range":["#FFA500","#00FFFF","#008000","#0000FF","#FF0000","#000000"]},
"legend":{"orient":"none","legendX":612,"legendY":22,"labelExpr":"datum.label=='a'?'VUA':datum.label=='b'?'VUB':datum.label=='c'?'VUC':datum.label=='d'?'VLA':datum.label=='e'?'VLB':'VLC'"}}}},
{"mark":{"type":"point","opacity":0},
"encoding":{
"x":{"field":"t","type":"quantitative","scale":{"domain":[3.9,4.8],"nice":false,"zero":false},"axis":{"orient":"top","values":[3.9,4,4.1,4.2,4.3,4.4,4.5,4.6,4.7,4.8],"labels":false,"title":null}},
"y":{"field":"v","type":"quantitative","scale":{"domain":[350,800],"nice":false,"zero":false},"axis":{"orient":"right","values":[400,500,600,700,800],"labels":false,"title":null}}}}
]},
{"width":1209,"height":159,
"title":{"text":"Sum of the Sub-Module Capactior Voltages of MMC 2 (PR- Controller based CCSC in DQ Reference Frame)"},
"data":{"name":"pi"},
"transform":[{"fold":["a","b","c","d","e","f"],"as":["s","v"]}],
"resolve":{"axis":{"x":"independent","y":"independent"}},
"layer":[
{"mark":{"type":"line","strokeWidth":2,"interpolate":"monotone","clip":true},
"encoding":{
"x":{"field":"t","type":"quantitative","scale":{"domain":[3.9,4.8],"nice":false,"zero":false},"axis":{"values":[3.9,4,4.1,4.2,4.3,4.4,4.5,4.6,4.7,4.8],"format":"~g","title":"Time (Seconds)","titlePadding":7.7}},
"y":{"field":"v","type":"quantitative","scale":{"domain":[350,800],"nice":false,"zero":false},"axis":{"values":[400,500,600,700,800],"format":"d","title":"KV","titlePadding":4}},
"color":{"field":"s","type":"nominal","scale":{"domain":["a","b","c","d","e","f"],"range":["#FFA500","#00FFFF","#008000","#0000FF","#FF0000","#000000"]},
"legend":{"orient":"none","legendX":612,"legendY":26,"labelExpr":"datum.label=='a'?'VUA':datum.label=='b'?'VUB':datum.label=='c'?'VUC':datum.label=='d'?'VLA':datum.label=='e'?'VLB':'VLC'"}}}},
{"mark":{"type":"point","opacity":0},
"encoding":{
"x":{"field":"t","type":"quantitative","scale":{"domain":[3.9,4.8],"nice":false,"zero":false},"axis":{"orient":"top","values":[3.9,4,4.1,4.2,4.3,4.4,4.5,4.6,4.7,4.8],"labels":false,"title":null}},
"y":{"field":"v","type":"quantitative","scale":{"domain":[350,800],"nice":false,"zero":false},"axis":{"orient":"right","values":[400,500,600,700,800],"labels":false,"title":null}}}}
]}
]
}
